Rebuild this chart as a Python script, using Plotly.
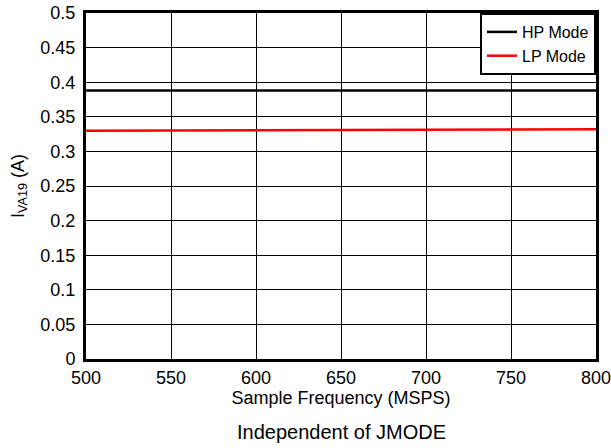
import plotly.graph_objects as go

freq_msps = [500, 550, 600, 650, 700, 750, 800]
hp_current = [0.388, 0.388, 0.388, 0.388, 0.388, 0.388, 0.388]
lp_current = [0.330, 0.3303, 0.3306, 0.331, 0.3313, 0.3316, 0.332]

x_ticks = [500, 550, 600, 650, 700, 750, 800]
y_ticks = [0, 0.05, 0.1, 0.15, 0.2, 0.25, 0.3, 0.35, 0.4, 0.45, 0.5]
y_tick_text = ["0", "0.05", "0.1", "0.15", "0.2", "0.25", "0.3", "0.35", "0.4", "0.45", "0.5"]

font = "Liberation Sans, Arial, sans-serif"

fig = go.Figure()
fig.add_trace(go.Scatter(x=freq_msps, y=hp_current, mode="lines", name="HP Mode",
                         line=dict(color="black", width=2.5)))
fig.add_trace(go.Scatter(x=freq_msps, y=lp_current, mode="lines", name="LP Mode",
                         line=dict(color="red", width=2.5)))

fig.update_layout(
    width=611, height=448,
    margin=dict(l=86, r=15, t=13, b=89),
    plot_bgcolor="white", paper_bgcolor="white",
    font=dict(family=font, size=18, color="black"),
    legend=dict(x=1, y=1, xanchor="right", yanchor="top",
                bgcolor="white", bordercolor="black", borderwidth=2,
                font=dict(size=16), tracegroupgap=0, itemwidth=30),
    showlegend=True,
)
fig.update_xaxes(range=[500, 800], tickvals=x_ticks, showgrid=True, gridcolor="black", gridwidth=1,
                 showline=True, linecolor="black", linewidth=3, mirror=True, ticks="",
                 automargin=False, ticklabeloverflow="allow",
                 title=dict(text="Sample Frequency (MSPS)", standoff=3, font=dict(size=18)),
                 zeroline=False)
fig.update_yaxes(range=[0, 0.5], tickvals=y_ticks, ticktext=y_tick_text, showgrid=True,
                 gridcolor="black", gridwidth=1,
                 showline=True, linecolor="black", linewidth=3, mirror=True, ticks="",
                 automargin=False, ticklabelstandoff=4, ticklabeloverflow="allow",
                 title=dict(text="I<sub>VA19</sub> (A)", standoff=12, font=dict(size=18)),
                 zeroline=False)

fig.add_annotation(text="Independent of JMODE", x=0.5, xref="paper", y=-0.211, yref="paper",
                   showarrow=False, font=dict(size=20), xanchor="center", yanchor="middle")

# drop the default 8px body margin so the figure fills the window
fig.write_html("out.html", config={"displayModeBar": False},
               post_script="document.body.style.margin = '0';")
